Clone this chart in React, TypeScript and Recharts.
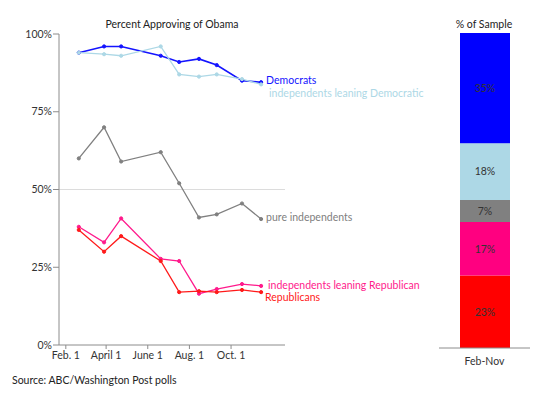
import {
  LineChart, Line, XAxis, YAxis, ReferenceLine, LabelList,
  BarChart, Bar,
} from 'recharts'

const pollDays = [51, 88, 113, 171, 198, 227, 253, 290, 318]

const democrats = [94, 96, 96, 93, 91, 92, 90, 85, 84.5]
const leanDem = [94, 93.5, 93, 96, 87, 86.3, 87, 85.5, 83.8]
const pureInd = [60, 70, 59, 62, 52, 41, 42, 45.5, 40.5]
const leanRep = [38, 33, 40.7, 27.7, 27, 16.5, 18, 19.6, 19]
const republicans = [37, 30, 35, 27, 17, 17.3, 17, 17.7, 17]

const xTicks = [32, 91, 152, 213, 274]
const xTickLabels = ['Feb. 1', 'April 1', 'June 1', 'Aug. 1', 'Oct. 1']
const yTicks = [0, 25, 50, 75, 100]

// % of sample, Feb-Nov
const sampleCategory = ['Feb-Nov']
const sampleRep = [23]
const sampleLeanRep = [17]
const samplePure = [7]
const sampleLeanDem = [18]
const sampleDem = [35]

const FONT = 'Lato, "Open Sans", sans-serif'

const lineData = pollDays.map((d, i) => ({
  day: d,
  dem: democrats[i],
  leanDem: leanDem[i],
  pure: pureInd[i],
  leanRep: leanRep[i],
  rep: republicans[i],
}))

const barData = sampleCategory.map((c, i) => ({
  cat: c,
  rep: sampleRep[i],
  leanRep: sampleLeanRep[i],
  pure: samplePure[i],
  leanDem: sampleLeanDem[i],
  dem: sampleDem[i],
}))

const endLabel = (text: string, color: string, dx: number, dy: number) => (props: any) => {
  if (props.index !== lineData.length - 1) return null
  return (
    <text x={props.x + dx} y={props.y + dy} fill={color} fontSize={10.5}
      fontFamily={FONT} dominantBaseline="middle">
      {text}
    </text>
  )
}

const series = [
  { key: 'dem', color: '#1414ff', label: 'Democrats', dx: 5, dy: -1, w: 1.6 },
  { key: 'leanDem', color: '#add8e6', label: 'independents leaning Democratic', dx: 8, dy: 10, w: 1.3 },
  { key: 'pure', color: '#808080', label: 'pure independents', dx: 5, dy: -1, w: 1.3 },
  { key: 'leanRep', color: '#ff1a8c', label: 'independents leaning Republican', dx: 7, dy: 0, w: 1.3 },
  { key: 'rep', color: '#ff1a1a', label: 'Republicans', dx: 4, dy: 6, w: 1.3 },
]

const bars = [
  { key: 'rep', color: '#ff0000' },
  { key: 'leanRep', color: '#ff0080' },
  { key: 'pure', color: '#808080' },
  { key: 'leanDem', color: '#add8e6' },
  { key: 'dem', color: '#0000ff' },
]

const axisColor = '#8c8c8c'
const tickStyle = { fill: '#333', fontSize: 10.5, fontFamily: FONT }

export default function App() {
  return (
    <div style={{ position: 'absolute', left: 0, top: 0, width: 550, height: 400, background: '#fff', fontFamily: FONT }}>
      <div style={{ position: 'absolute', left: 72, width: 200, top: 18, textAlign: 'center', fontSize: 10.5, color: '#222' }}>
        Percent Approving of Obama
      </div>
      <div style={{ position: 'absolute', left: 434, width: 100, top: 18, textAlign: 'center', fontSize: 10.5, color: '#222' }}>
        % of Sample
      </div>
      <div style={{ position: 'absolute', left: 12, top: 374, fontSize: 10.5, color: '#222' }}>
        Source: ABC/Washington Post polls
      </div>

      <div style={{ position: 'absolute', left: 0, top: 0 }}>
        <LineChart width={440} height={400} data={lineData}
          margin={{ top: 34, right: 155, bottom: 25, left: 0 }}>
          <ReferenceLine y={50} stroke="#dcdcdc" strokeWidth={1} />
          <XAxis dataKey="day" type="number" domain={[22, 353]} ticks={xTicks}
            allowDataOverflow height={30}
            tickFormatter={(v: number) => xTickLabels[xTicks.indexOf(v)]}
            tick={tickStyle} tickSize={4} tickMargin={3}
            stroke={axisColor} />
          <YAxis type="number" domain={[0, 100]} ticks={yTicks} width={59}
            tickFormatter={(v: number) => `${v}%`}
            tick={tickStyle} tickSize={6} tickMargin={1}
            stroke={axisColor} />
          {series.map((s) => (
            <Line key={s.key} dataKey={s.key} type="linear" stroke={s.color}
              strokeWidth={s.w} dot={{ r: 1.6, fill: s.color, stroke: s.color, strokeWidth: 1 }}
              isAnimationActive={false}>
              <LabelList dataKey={s.key} content={endLabel(s.label, s.color, s.dx, s.dy)} />
            </Line>
          ))}
        </LineChart>
      </div>

      <div style={{ position: 'absolute', left: 439, top: 0 }}>
        <BarChart width={91} height={400} data={barData}
          margin={{ top: 33, right: 0, bottom: 22, left: 0 }}>
          <XAxis dataKey="cat" height={30} tick={tickStyle} tickLine={false}
            stroke={axisColor} tickMargin={4} />
          <YAxis hide domain={[0, 100]} />
          {bars.map((b) => (
            <Bar key={b.key} dataKey={b.key} stackId="s" fill={b.color} barSize={50}
              isAnimationActive={false}>
              <LabelList dataKey={b.key} position="center" fill="#333" fontSize={10.5}
                fontFamily={FONT} formatter={(v: any) => `${v}%`} />
            </Bar>
          ))}
        </BarChart>
      </div>
    </div>
  )
}
